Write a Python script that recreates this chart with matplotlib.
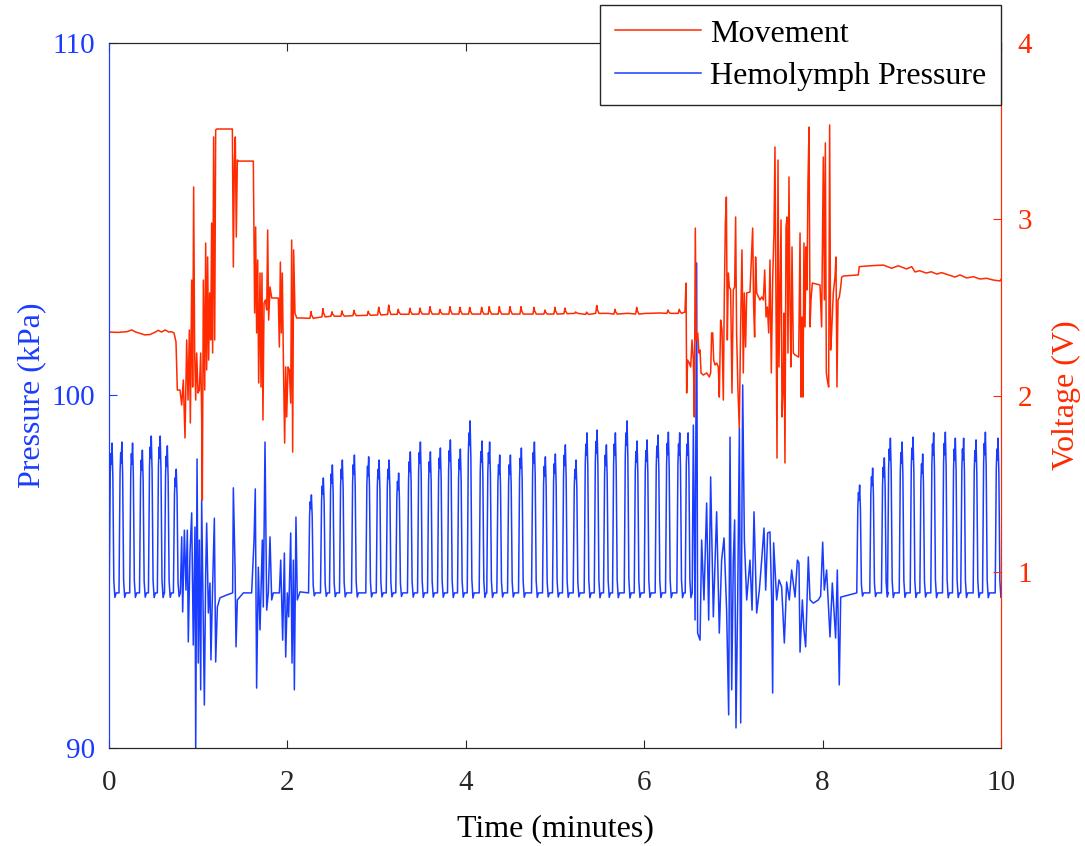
import numpy as np
import matplotlib
matplotlib.use("Agg")
import matplotlib.pyplot as plt

plt.rcParams['font.family'] = ['Liberation Serif', 'DejaVu Serif']

blue = '#1a3cff'
red = '#ff2a00'

# ---- hemolymph pressure (kPa), time in minutes ----
base_p = 94.4

# regular heartbeat peaks
beat1_t = [0.03, 0.14, 0.26, 0.37, 0.47, 0.57, 0.65, 0.75]
beat1_p = [98.65, 98.68, 98.65, 98.45, 98.85, 98.85, 98.57, 97.91]

beat2_t = [2.265, 2.399, 2.500, 2.612, 2.747, 2.907, 3.024, 3.136, 3.243, 3.374,
           3.487, 3.599, 3.711, 3.823, 3.935, 4.044, 4.178, 4.263, 4.376, 4.496,
           4.619, 4.765, 4.888, 5.000, 5.112, 5.232, 5.355, 5.468, 5.572, 5.673,
           5.804, 5.916, 6.028, 6.151, 6.267, 6.394, 6.488]
beat2_p = [97.18, 97.66, 98.03, 98.17, 98.31, 98.26, 98.17, 98.17, 97.80, 98.40,
           98.68, 98.40, 98.51, 98.74, 98.48, 99.28, 98.71, 98.68, 98.31, 98.31,
           98.51, 98.68, 98.26, 98.34, 98.60, 98.17, 98.94, 99.02, 98.60, 98.94,
           99.28, 98.71, 98.74, 98.88, 98.96, 98.94, 98.94]

beat3_t = [8.411, 8.557, 8.688, 8.756, 8.887, 9.010, 9.118, 9.241, 9.372, 9.484,
           9.577, 9.716, 9.821, 9.963]
beat3_p = [97.46, 97.94, 98.23, 98.79, 98.68, 98.82, 98.34, 98.94, 98.96, 98.79,
           98.79, 98.74, 98.96, 98.79]

# irregular stretches while the animal moves
noise1_t = [0.800, 0.815, 0.826, 0.845, 0.863, 0.878, 0.889, 0.908, 0.927, 0.945,
            0.964, 0.972, 0.987, 1.001, 1.013, 1.028, 1.039, 1.058, 1.069, 1.084,
            1.095, 1.114, 1.132, 1.143, 1.158, 1.181, 1.196, 1.215, 1.244, 1.319,
            1.386, 1.394, 1.413, 1.424, 1.439, 1.506, 1.599, 1.626, 1.640, 1.655,
            1.674, 1.693, 1.719, 1.730, 1.749, 1.768, 1.786, 1.805, 1.824, 1.842,
            1.910, 1.925, 1.947, 1.966, 1.981, 1.999, 2.014, 2.037, 2.052, 2.067,
            2.078, 2.096, 2.111, 2.141]
noise1_p = [94.40, 95.99, 93.86, 96.18, 94.48, 96.18, 93.01, 95.53, 96.67, 92.92,
            96.27, 89.80, 98.20, 92.41, 95.90, 91.65, 97.04, 93.26, 91.22, 94.96,
            96.38, 93.83, 94.68, 92.50, 94.20, 96.52, 92.44, 94.00, 94.26, 94.34,
            94.40, 97.38, 95.13, 92.87, 94.20, 94.40, 94.40, 95.90, 97.35, 91.70,
            95.13, 93.35, 95.90, 94.00, 98.68, 93.91, 94.40, 95.99, 94.20, 94.40,
            94.40, 95.33, 93.06, 95.53, 92.58, 94.40, 93.72, 96.10, 92.41, 95.33,
            91.65, 96.55, 94.20, 94.43]

noise2_t = [6.551, 6.570, 6.588, 6.599, 6.626, 6.644, 6.670, 6.700, 6.723, 6.745,
            6.775, 6.812, 6.842, 6.868, 6.895, 6.924, 6.947, 6.962, 6.981, 6.999,
            7.014, 7.029, 7.048, 7.067, 7.082, 7.104, 7.123, 7.149, 7.186, 7.209,
            7.231, 7.261, 7.291, 7.317, 7.343, 7.362, 7.384, 7.410, 7.429, 7.440,
            7.451, 7.485, 7.511, 7.541, 7.571, 7.597, 7.627, 7.653, 7.691, 7.717,
            7.735, 7.747, 7.773, 7.791, 7.810, 7.840, 7.859, 7.896, 7.952, 7.978,
            8.001, 8.019, 8.045, 8.083, 8.109, 8.146, 8.165, 8.187, 8.203]
noise2_p = [99.16, 93.63, 103.76, 93.26, 93.06, 95.90, 94.20, 96.95, 93.63, 97.69,
            93.72, 96.70, 93.26, 95.33, 95.96, 93.91, 90.94, 98.82, 91.65, 95.33,
            96.47, 90.57, 94.20, 99.08, 90.71, 100.30, 95.90, 94.20, 95.33, 93.91,
            96.70, 93.83, 94.48, 95.33, 96.24, 94.48, 96.10, 96.13, 94.20, 91.56,
            95.82, 94.20, 94.77, 94.57, 92.98, 94.71, 94.20, 95.05, 94.28, 95.33,
            95.25, 92.72, 94.20, 93.35, 92.87, 95.42, 94.20, 94.11, 94.20, 94.31,
            95.84, 94.48, 95.05, 93.15, 94.68, 93.12, 95.05, 91.79, 94.28]

# ---- movement sensor (V) ----
moveA_t = [0.0, 0.10, 0.20, 0.254, 0.30, 0.35, 0.40, 0.46, 0.52, 0.55, 0.59, 0.63, 0.67, 0.70]
moveA_v = [2.360, 2.358, 2.362, 2.372, 2.360, 2.352, 2.344, 2.346, 2.360, 2.370,
           2.360, 2.372, 2.360, 2.362]

move1_t = [0.729, 0.751, 0.766, 0.796, 0.815, 0.833, 0.852, 0.871, 0.886, 0.901,
           0.912, 0.927, 0.938, 0.949, 0.960, 0.972, 0.983, 0.998, 1.013, 1.028,
           1.039, 1.046, 1.058, 1.073, 1.084, 1.095, 1.106, 1.117, 1.129, 1.140,
           1.151, 1.162, 1.173, 1.185, 1.196, 1.207, 1.383, 1.394, 1.405, 1.416,
           1.427, 1.439, 1.450, 1.618, 1.633, 1.644, 1.655, 1.667, 1.678, 1.693,
           1.704, 1.715, 1.726, 1.738, 1.753, 1.768, 1.779, 1.790, 1.805, 1.824,
           1.898, 1.910, 1.921, 1.932, 1.943, 1.954, 1.969, 1.981, 1.992, 2.007,
           2.022, 2.037, 2.048, 2.059, 2.070, 2.085, 2.104, 2.141]
move1_v = [2.355, 2.304, 2.031, 2.031, 1.946, 2.088, 1.759, 2.315, 1.974, 2.372,
           1.844, 2.655, 2.048, 3.183, 2.258, 1.974, 2.241, 2.014, 2.031, 2.241,
           1.878, 1.407, 2.655, 2.031, 2.865, 2.145, 2.786, 2.201, 2.582, 2.315,
           2.979, 2.241, 3.467, 2.315, 3.506, 3.512, 3.512, 2.729, 3.319, 3.467,
           2.899, 3.336, 3.330, 3.330, 2.468, 2.956, 2.355, 2.769, 2.071, 2.695,
           2.048, 2.695, 1.861, 2.525, 2.542, 2.485, 2.939, 2.428, 2.616, 2.553,
           2.553, 2.275, 2.757, 2.355, 2.695, 2.241, 1.730, 2.162, 1.878, 2.162,
           2.145, 1.957, 2.882, 1.679, 2.826, 2.468, 2.440, 2.440]

# small bumps on the resting movement signal, one per heartbeat (first 36 beats)
move_rest = [2.438, 2.446, 2.450, 2.450, 2.453, 2.455, 2.457, 2.460, 2.461, 2.461,
             2.462, 2.462, 2.462, 2.462, 2.462, 2.462, 2.462, 2.462, 2.462, 2.462,
             2.462, 2.462, 2.462, 2.462, 2.464, 2.466, 2.460, 2.466, 2.466, 2.462,
             2.466, 2.462, 2.466, 2.468, 2.466, 2.466]
move_bump = [0.038, 0.047, 0.025, 0.030, 0.030, 0.023, 0.044, 0.053, 0.028, 0.034,
             0.034, 0.042, 0.026, 0.042, 0.038, 0.038, 0.038, 0.042, 0.042, 0.042,
             0.042, 0.038, 0.023, 0.038, 0.032, 0.008, 0.013, 0.045, 0.0, 0.027,
             0.0, 0.038, 0.0, 0.0, 0.019, 0.023]

move2_t = [6.457, 6.469, 6.476, 6.487, 6.506, 6.521, 6.536, 6.551, 6.562, 6.573,
           6.584, 6.600, 6.614, 6.626, 6.637, 6.663, 6.700, 6.730, 6.745, 6.756,
           6.768, 6.779, 6.794, 6.813, 6.831, 6.842, 6.857, 6.872, 6.887, 6.898,
           6.910, 6.921, 6.932, 6.943, 6.954, 6.969, 6.984, 6.999, 7.014, 7.025,
           7.036, 7.051, 7.066, 7.081, 7.096, 7.111, 7.122, 7.137, 7.149, 7.186,
           7.205, 7.216, 7.227, 7.238, 7.249, 7.261, 7.298, 7.317, 7.336, 7.351,
           7.366, 7.381, 7.396, 7.410, 7.425, 7.440, 7.455, 7.466, 7.478, 7.489,
           7.500, 7.511, 7.522, 7.534, 7.545, 7.556, 7.567, 7.578, 7.590, 7.601,
           7.612, 7.623, 7.635, 7.646, 7.657, 7.672, 7.691, 7.732, 7.747, 7.758,
           7.769, 7.780, 7.791, 7.803, 7.814, 7.825, 7.836, 7.848, 7.859, 7.870,
           7.885, 7.971, 7.989, 8.008, 8.020, 8.031, 8.042, 8.053, 8.068, 8.079,
           8.090, 8.101, 8.120, 8.139, 8.150, 8.161, 8.173, 8.188, 8.203, 8.214,
           8.233, 8.400]
move2_v = [2.474, 2.638, 2.014, 2.201, 2.184, 2.162, 2.315, 2.201, 1.878, 2.950,
           2.315, 2.355, 2.241, 2.258, 2.128, 2.116, 2.128, 2.105, 2.128, 2.355,
           2.355, 2.201, 2.173, 2.184, 2.162, 1.991, 2.428, 2.372, 1.974, 2.559,
           2.979, 3.126, 2.315, 2.695, 2.616, 2.599, 2.014, 2.599, 2.616, 3.013,
           2.355, 2.031, 1.816, 2.389, 2.826, 2.128, 2.582, 2.275, 2.582, 2.587,
           2.826, 2.950, 2.502, 2.332, 2.786, 2.582, 2.542, 2.559, 2.542, 2.712,
           2.445, 2.502, 2.355, 2.769, 2.128, 2.655, 2.922, 3.410, 2.468, 1.645,
           3.336, 2.162, 2.582, 2.996, 1.878, 2.014, 2.468, 1.617, 2.956, 3.013,
           2.241, 3.240, 2.502, 2.162, 2.843, 2.241, 2.230, 2.218, 2.922, 1.991,
           2.445, 1.991, 2.865, 2.389, 2.843, 2.599, 3.206, 3.523, 2.389, 2.542,
           2.638, 2.627, 2.389, 3.353, 2.542, 3.433, 2.128, 2.088, 2.048, 3.535,
           2.258, 2.355, 2.582, 2.672, 2.786, 2.048, 2.542, 2.559, 2.616, 2.672,
           2.678, 2.684]

move3_t = [8.411, 8.532, 8.681, 8.774, 8.849, 8.942, 8.999, 9.036, 9.087, 9.162,
           9.219, 9.279, 9.335, 9.484, 9.540, 9.615, 9.690, 9.765, 9.839, 9.914,
           9.989, 10.0]
move3_v = [2.731, 2.736, 2.740, 2.722, 2.736, 2.718, 2.731, 2.701, 2.708, 2.695,
           2.702, 2.689, 2.697, 2.672, 2.684, 2.667, 2.674, 2.661, 2.665, 2.655,
           2.650, 2.659]

# pulse outline used to draw each heartbeat around its peak
shape_dt = [-0.028, -0.016, -0.009, -0.003, 0.004, 0.013, 0.024, 0.036, 0.050]
shape_f = [0.0, 0.80, 0.93, 0.86, 1.0, 0.78, 0.08, -0.03, 0.0]


def beats(times, peaks):
    t, p = [], []
    for tc, pk in zip(times, peaks):
        for dt, f in zip(shape_dt, shape_f):
            t.append(tc + dt)
            p.append(base_p + f * (pk - base_p))
    return t, p


b1t, b1p = beats(beat1_t, beat1_p)
b2t, b2p = beats(beat2_t, beat2_p)
b3t, b3p = beats(beat3_t, beat3_p)
press_t = [0.0] + b1t + noise1_t + b2t + noise2_t + b3t + [10.0]
press_p = [base_p] + b1p + noise1_p + b2p + noise2_p + b3p + [base_p]

rest_t, rest_v = [], []
for tc, lvl, bump in zip(beat2_t, move_rest, move_bump):
    rest_t += [tc - 0.012, tc, tc + 0.006, tc + 0.025]
    rest_v += [lvl, lvl + bump, lvl + 0.5 * bump, lvl]
move_t = moveA_t + move1_t + rest_t + move2_t + move3_t
move_v = moveA_v + move1_v + rest_v + move2_v + move3_v

# ---- figure ----
fig = plt.figure(figsize=(10.85, 8.46), dpi=100)
ax = fig.add_axes([109 / 1085, 1 - 748 / 846, 892 / 1085, 705 / 846])
ax2 = ax.twinx()

l1, = ax.plot(press_t, press_p, color=blue, lw=1.1, label='Hemolymph Pressure')
l2, = ax2.plot(move_t, move_v, color=red, lw=1.1, label='Movement')

ax.set_xlim(0, 10)
ax.set_ylim(90, 110)
ax2.set_ylim(0, 4)
ax.set_xticks([0, 2, 4, 6, 8, 10])
ax.set_yticks([90, 100, 110])
ax2.set_yticks([1, 2, 3, 4])

ax.tick_params(axis='x', direction='in', length=6, labelsize=21, top=True,
               colors='#262626', pad=16)
ax.tick_params(axis='y', direction='in', length=6, labelsize=21,
               colors=blue, pad=10)
ax2.tick_params(axis='y', direction='in', length=6, labelsize=21,
                colors=red, pad=12)
# labels sit a little below their ticks, as in the original export
for lab in ax.get_yticklabels() + ax2.get_yticklabels():
    lab.set_va('center_baseline')

for a in (ax, ax2):
    a.spines['bottom'].set_color('#262626')
    a.spines['top'].set_color('#262626')
    a.spines['left'].set_color(blue)
    a.spines['right'].set_color(red)

ax.set_xlabel('Time (minutes)', fontsize=23, color='black', labelpad=13)
ax.set_ylabel('Pressure (kPa)', fontsize=23, color=blue, labelpad=4)
ax2.set_ylabel('Voltage (V)', fontsize=23, color=red, labelpad=14)

leg = ax2.legend([l2, l1], ['Movement', 'Hemolymph Pressure'],
                 loc='upper right', bbox_to_anchor=(1.0, 1.054),
                 borderaxespad=0, fontsize=23, fancybox=False,
                 edgecolor='#262626', framealpha=1, handlelength=2.7,
                 handletextpad=0.3, labelspacing=0.4, borderpad=0.45)
leg.get_frame().set_linewidth(1.0)

fig.savefig('out.png', dpi=100)
